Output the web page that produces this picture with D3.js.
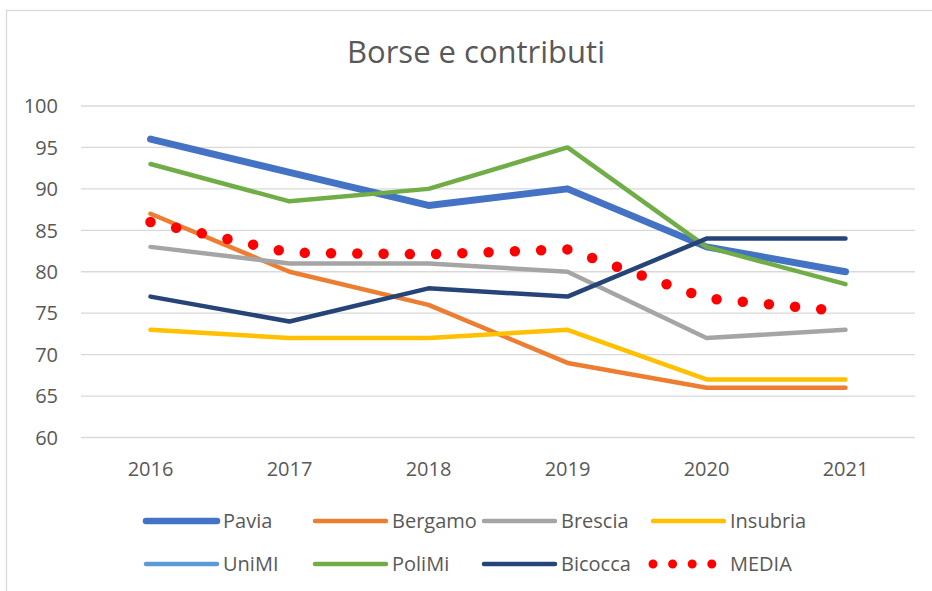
<!DOCTYPE html>
<html>
<head>
<meta charset="utf-8">
<script src="https://cdn.jsdelivr.net/npm/d3@7"></script>
<style>
  body { margin: 0; background: #fff; }
  text { font-family: "Open Sans", sans-serif; fill: #595959; }
</style>
</head>
<body>
<svg id="chart"></svg>
<script>
const width = 932, height = 591;

// data
const years = ["2016", "2017", "2018", "2019", "2020", "2021"];
const seriesNames = ["Pavia", "Bergamo", "Brescia", "Insubria", "UniMI", "PoliMi", "Bicocca", "MEDIA"];
const pavia    = [96, 92, 88, 90, 83, 80];
const bergamo  = [87, 80, 76, 69, 66, 66];
const brescia  = [83, 81, 81, 80, 72, 73];
const insubria = [73, 72, 72, 73, 67, 67];
const unimi    = [];   // only in the legend
const polimi   = [93, 88.5, 90, 95, 83, 78.5];
const bicocca  = [77, 74, 78, 77, 84, 84];
const media    = [86, 82.3, 82.1, 82.7, 76.8, 75.2];
const yTicks = [60, 65, 70, 75, 80, 85, 90, 95, 100];

const colors = ["#4472C4", "#ED7D31", "#A5A5A5", "#FFC000", "#5B9BD5", "#70AD47", "#264478", "#FF0000"];
const widths = [7, 4.5, 4.5, 4.5, 4.5, 4.5, 4.5, 10.5];

const series = seriesNames.map((name, i) => ({
    name: name,
    values: [pavia, bergamo, brescia, insubria, unimi, polimi, bicocca, media][i],
    color: colors[i],
    width: widths[i],
    dotted: name === "MEDIA"
}));

const svg = d3.select("#chart")
    .attr("width", width)
    .attr("height", height);

// chart border
svg.append("rect")
    .attr("x", 6.5).attr("y", 10.5)
    .attr("width", 940).attr("height", 600)
    .attr("fill", "#fff")
    .attr("stroke", "#d9d9d9")
    .attr("stroke-width", 1.3);

// title
svg.append("text")
    .attr("x", 476)
    .attr("y", 63)
    .attr("text-anchor", "middle")
    .attr("font-size", "31px")
    .text("Borse e contributi");

const x = d3.scalePoint()
    .domain(years)
    .range([81, 915])
    .padding(0.5);

const y = d3.scaleLinear()
    .domain([60, 100])
    .range([437.5, 106]);

// gridlines
svg.append("g")
    .selectAll("line")
    .data(yTicks)
    .enter().append("line")
    .attr("x1", 81).attr("x2", 915)
    .attr("y1", d => y(d)).attr("y2", d => y(d))
    .attr("stroke", "#d9d9d9")
    .attr("stroke-width", 1.3);

// y labels
svg.append("g")
    .selectAll("text")
    .data(yTicks)
    .enter().append("text")
    .attr("x", 58)
    .attr("y", d => y(d))
    .attr("dy", "0.36em")
    .attr("text-anchor", "end")
    .attr("font-size", "20px")
    .text(d => d);

// x labels
svg.append("g")
    .selectAll("text")
    .data(years)
    .enter().append("text")
    .attr("x", d => x(d))
    .attr("y", 476)
    .attr("text-anchor", "middle")
    .attr("font-size", "20px")
    .text(d => d);

const line = d3.line()
    .x((d, i) => x(years[i]))
    .y(d => y(d));

svg.append("g")
    .selectAll("path")
    .data(series.filter(s => s.values.length))
    .enter().append("path")
    .attr("d", d => line(d.values))
    .attr("fill", "none")
    .attr("stroke", d => d.color)
    .attr("stroke-width", d => d.width)
    .attr("stroke-linecap", "round")
    .attr("stroke-linejoin", "round")
    .attr("stroke-dasharray", d => d.dotted ? "0 26.27" : null);

// legend: 4 columns, 2 rows
const legend = svg.append("g");
const items = legend.selectAll("g")
    .data(series)
    .enter().append("g")
    .attr("transform", (d, i) => `translate(${146 + (i % 4) * 169}, ${521 + Math.floor(i / 4) * 43})`);

items.append("line")
    .attr("x1", 0).attr("x2", d => d.dotted ? 59 : 71)
    .attr("y1", 0).attr("y2", 0)
    .attr("stroke", d => d.color)
    .attr("stroke-width", d => d.dotted ? 9 : (d.name === "Pavia" ? 6.5 : 4.5))
    .attr("stroke-linecap", "round")
    .attr("stroke-dasharray", d => d.dotted ? "0 19.6" : null);

items.append("text")
    .attr("x", 77)
    .attr("y", 0)
    .attr("dy", "0.36em")
    .attr("font-size", "20px")
    .text(d => d.name);
</script>
</body>
</html>
